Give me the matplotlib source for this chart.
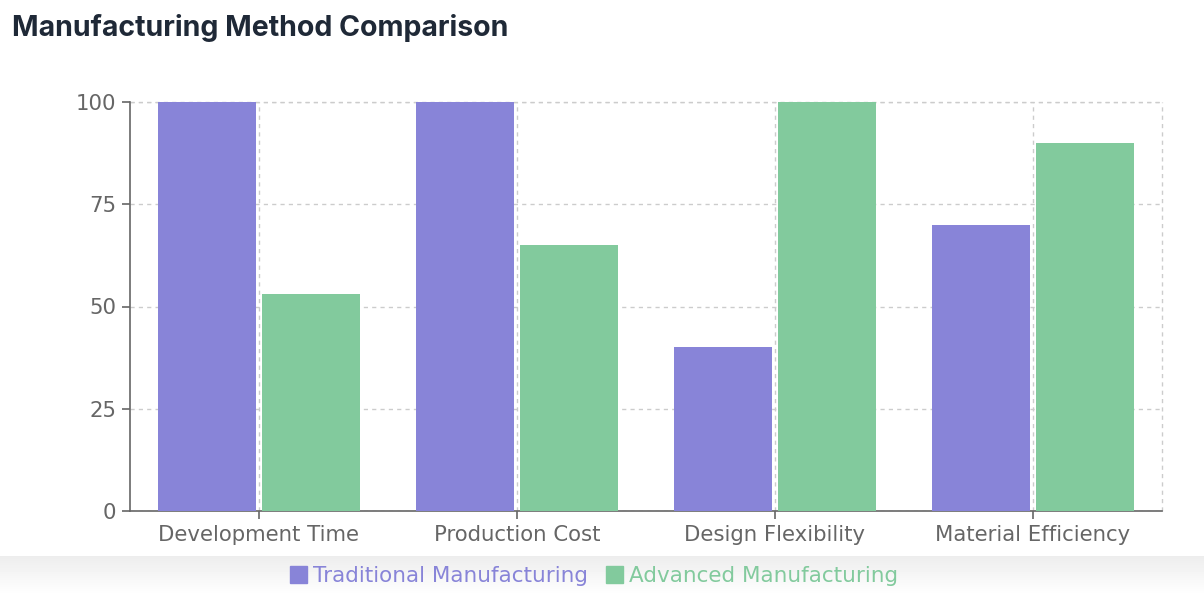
import numpy as np
import matplotlib
matplotlib.use("Agg")
import matplotlib.pyplot as plt
from matplotlib.patches import Patch

# ── Data ─────────────────────────────────────────────────────────────────────
categories  = ["Development Time", "Production Cost", "Design Flexibility", "Material Efficiency"]
traditional = [100, 100, 40, 70]
advanced    = [53, 65, 100, 90]
y_ticks     = [0, 25, 50, 75, 100]

PURPLE = "#8884d8"
GREEN  = "#82ca9d"
GRAY   = "#666666"

W, H = 1204, 610
fig = plt.figure(figsize=(W / 100, H / 100), dpi=100)
fig.patch.set_facecolor("white")

# ── Card shadow below the chart area ─────────────────────────────────────────
bg = fig.add_axes([0, 0, 1, 1], zorder=-5)
bg.set_xlim(0, W)
bg.set_ylim(H, 0)
bg.axis("off")
grad = np.linspace(0.9, 1.0, 40).reshape(-1, 1) ** 0.7
bg.imshow(grad, cmap="gray", vmin=0, vmax=1, extent=(0, W, 596, 556), aspect="auto")

# ── Title ────────────────────────────────────────────────────────────────────
fig.text(12 / W, 1 - 28 / H, "Manufacturing Method Comparison", fontsize=20.5,
         fontweight="bold", color="#1f2937", family="Inter", va="center", ha="left")

# ── Bars ─────────────────────────────────────────────────────────────────────
left, right, top, bottom = 130, 1162, 102, 511
ax = fig.add_axes([left / W, 1 - bottom / H, (right - left) / W, (bottom - top) / H])
x = np.arange(len(categories))
ax.bar(x - 0.2, traditional, width=0.38, color=PURPLE, zorder=3)
ax.bar(x + 0.2, advanced, width=0.38, color=GREEN, zorder=3)

ax.set_xlim(-0.5, len(categories) - 0.5)
ax.set_ylim(0, 100)
ax.set_xticks(x)
ax.set_xticklabels(categories)
ax.set_yticks(y_ticks)

dash = (0, (3, 3))
ax.grid(True, linestyle=dash, color="#cccccc", linewidth=1, zorder=0)
ax.axvline(len(categories) - 0.5, linestyle=dash, color="#cccccc", linewidth=1, zorder=0, clip_on=False)
ax.axhline(100, linestyle=dash, color="#cccccc", linewidth=1, zorder=0, clip_on=False)

for s in ["top", "right"]:
    ax.spines[s].set_visible(False)
for s in ["left", "bottom"]:
    ax.spines[s].set_color(GRAY)
    ax.spines[s].set_linewidth(1.2)
ax.tick_params(axis="both", colors=GRAY, labelsize=15.3, length=6, width=1.2, pad=4)
for lab in ax.get_xticklabels() + ax.get_yticklabels():
    lab.set_color(GRAY)

# ── Legend ───────────────────────────────────────────────────────────────────
handles = [Patch(color=PURPLE, label="Traditional Manufacturing"),
           Patch(color=GREEN, label="Advanced Manufacturing")]
fig.legend(handles=handles, loc="center", bbox_to_anchor=(594 / W, 1 - 576 / H),
           ncol=2, frameon=False, fontsize=15.5, labelcolor=[PURPLE, GREEN],
           handlelength=0.8, handleheight=0.8, handletextpad=0.3, columnspacing=0.8)

fig.savefig("out.png", dpi=100, facecolor="white")
